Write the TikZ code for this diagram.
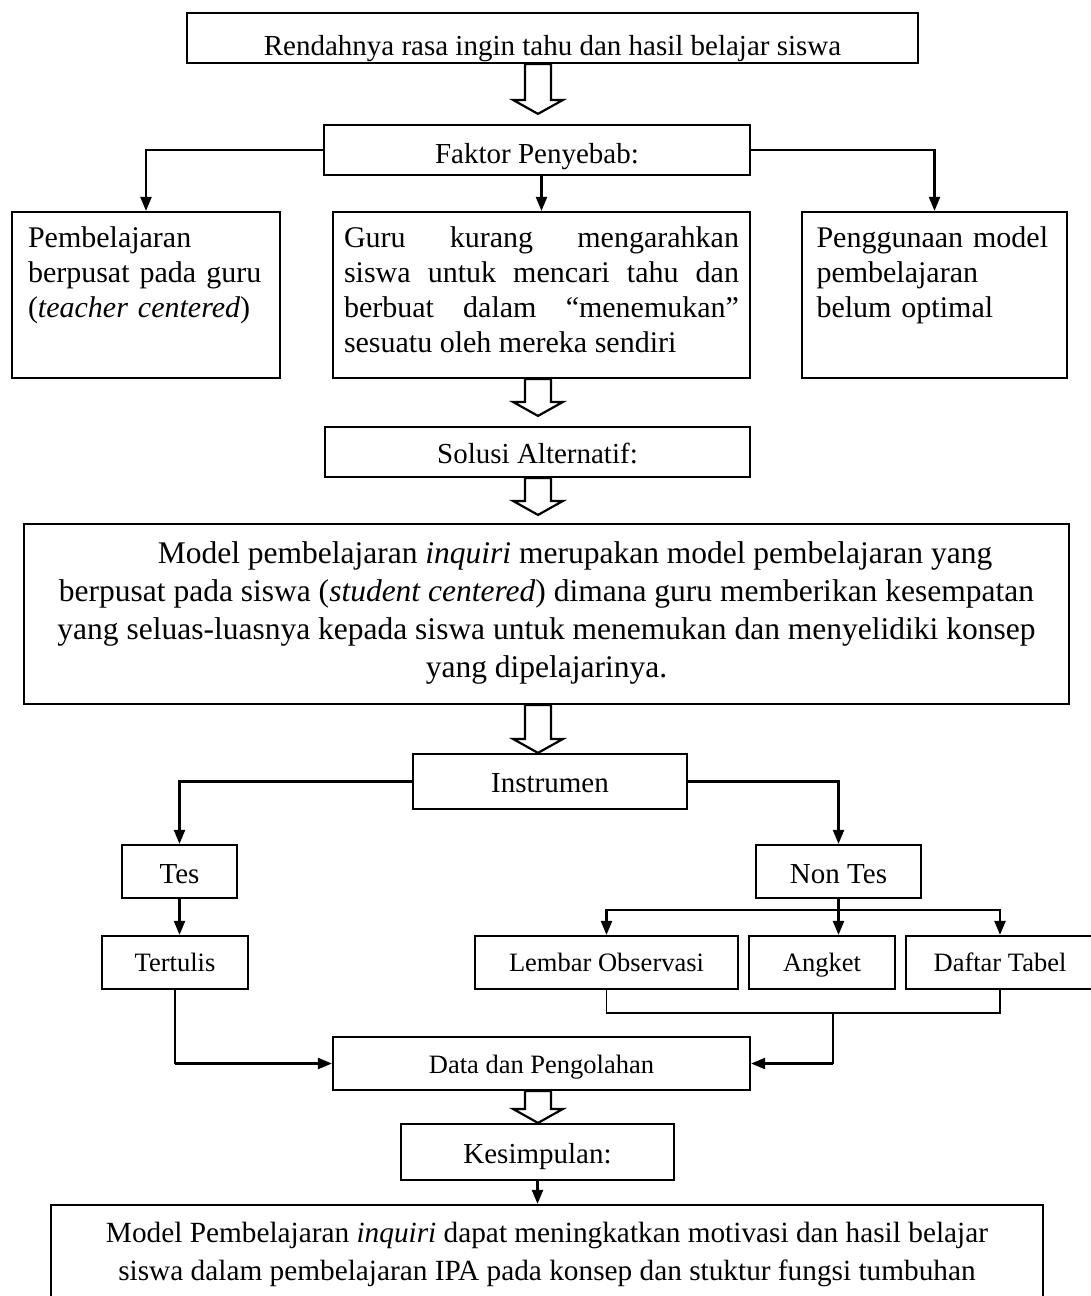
\documentclass[tikz,border=0pt]{standalone}
\usepackage{fontspec}
\setmainfont{Liberation Serif}
\usepackage{tikz}
\usetikzlibrary{arrows.meta,calc}
\tikzset{>={Triangle[length=14pt,width=11pt]},
	kotak/.style={draw, line width=2.2pt, inner xsep=0pt, inner ysep=0pt, font=\fontsize{29pt}{35pt}\selectfont},
	kecil/.style={font=\fontsize{26.5pt}{32pt}\selectfont},
	sebab/.style={kotak, font=\fontsize{30pt}{35pt}\selectfont, text height=35pt, text depth=131pt},
	garis/.style={line width=2.2pt},
	tipis/.style={line width=1.4pt}}
\newcommand{\panahputih}[3]{%
	\draw[garis, fill=white] let \p1=(#1.south), \p2=(#2.north), \p3=(sumbu) in
		(\x3-13pt,\y1) -- (\x3-13pt,\y2+#3pt+14pt) -- (\x3-25pt,\y2+#3pt+14pt) -- (\x3,\y2+#3pt)
		-- (\x3+25pt,\y2+#3pt+14pt) -- (\x3+13pt,\y2+#3pt+14pt) -- (\x3+13pt,\y1) -- cycle;}

\begin{document}
\begin{tikzpicture}[x=1pt, y=-1pt]
		\useasboundingbox (0,0) rectangle (1091,1296);
		\coordinate(sumbu) at (538,0);
		\node(akar)[kotak, minimum width=731pt, text height=42pt, text depth=8pt] at (552.5,38){Rendahnya rasa ingin tahu dan hasil belajar siswa};
		\node(faktor)[kotak, minimum width=426pt, text height=38pt, text depth=12pt] at (537,150){Faktor Penyebab:};
		\node(kiri)[sebab, minimum width=268pt, text width=236pt, align=left] at (146,295){Pembelajaran\\ berpusat pada guru\\ (\textit{teacher centered})};
		\node(tengah)[sebab, minimum width=417pt, text width=395pt, align=justify] at (541.5,295){Guru kurang mengarahkan\linebreak siswa untuk mencari tahu dan\linebreak berbuat dalam ``menemukan''\linebreak sesuatu oleh mereka sendiri};
		\node(kanan)[sebab, minimum width=265pt, text width=236pt, align=left] at (934.5,295){Penggunaan model\\ pembelajaran\\ belum optimal};
		\node(solusi)[kotak, minimum width=425pt, text height=36pt, text depth=14pt] at (537.5,452){Solusi Alternatif:};
		\node(model)[kotak, font=\fontsize{31.5pt}{38pt}\selectfont, minimum width=1045pt, text width=1040pt, align=flush center, text height=39pt, text depth=141pt] at (546.5,614){\hspace*{57pt}Model pembelajaran \textit{inquiri} merupakan model pembelajaran yang\\ berpusat pada siswa (\textit{student centered}) dimana guru memberikan kesempatan\\ yang seluas-luasnya kepada siswa untuk menemukan dan menyelidiki konsep\\ yang dipelajarinya.};
		\node(instrumen)[kotak, minimum width=274pt, text height=38pt, text depth=17pt] at (550,781.5){Instrumen};
		\node(tes)[kotak, minimum width=115pt, text height=38pt, text depth=15pt] at (179.5,871.5){Tes};
		\node(nontes)[kotak, minimum width=165pt, text height=38pt, text depth=15pt] at (838.5,871.5){Non Tes};
		\node(tertulis)[kotak, kecil, minimum width=146pt, text height=35pt, text depth=18pt] at (175,962.5){Tertulis};
		\node(lembar)[kotak, kecil, minimum width=263pt, text height=35pt, text depth=18pt] at (606.5,962.5){Lembar Observasi};
		\node(angket)[kotak, kecil, minimum width=146pt, text height=35pt, text depth=18pt] at (822,962.5){Angket};
		\node(daftar)[kotak, kecil, minimum width=188pt, text height=35pt, text depth=18pt] at (1000,962.5){Daftar Tabel};
		\node(data)[kotak, kecil, minimum width=417pt, text height=36pt, text depth=17pt] at (541.5,1063.5){Data dan Pengolahan};
		\node(kesimpulan)[kotak, minimum width=273pt, text height=39pt, text depth=17pt] at (537.5,1152){Kesimpulan:};
		\node(hasil)[kotak, font=\fontsize{29.3pt}{38pt}\selectfont, minimum width=992pt, text width=985pt, align=flush center, text height=37pt, text depth=83pt] at (547,1265){Model Pembelajaran \textit{inquiri} dapat meningkatkan motivasi dan hasil belajar\\ siswa dalam pembelajaran IPA pada konsep dan stuktur fungsi tumbuhan};
		\panahputih{akar}{faktor}{10}
		\panahputih{tengah}{solusi}{10}
		\panahputih{solusi}{model}{8}
		\panahputih{model}{instrumen}{0}
		\panahputih{data}{kesimpulan}{0}
		\draw[garis,->](faktor.west) -| (kiri.north);
		\draw[garis,->](faktor.east) -| (kanan.north);
		\draw[garis,->](tengah.north |- faktor.south) -- (tengah.north);
		\draw[garis,->](instrumen.west) -| (tes.north);
		\draw[garis,->](instrumen.east) -| (nontes.north);
		\draw[garis,->](tes.south) -- (tes.south |- tertulis.north);
		\draw[garis](nontes.south) -- ++(0,11) coordinate(cabang);
		\draw[garis,->](cabang) -| (lembar.north);
		\draw[garis,->](cabang) -- (cabang |- angket.north);
		\draw[garis,->](cabang) -| (daftar.north);
		\coordinate(gabung) at (833,1013);
		\draw[tipis](lembar.south) |- (gabung) -| (daftar.south);
		\draw[tipis](gabung) -- (gabung |- data.east);
		\draw[garis,->](gabung |- data.east) -- (data.east);
		\draw[tipis](tertulis.south) -- (tertulis.south |- data.west);
		\draw[garis,->](tertulis.south |- data.west) -- (data.west);
		\draw[garis,->](kesimpulan.south) -- (kesimpulan.south |- hasil.north);
	\end{tikzpicture}
\end{document}
